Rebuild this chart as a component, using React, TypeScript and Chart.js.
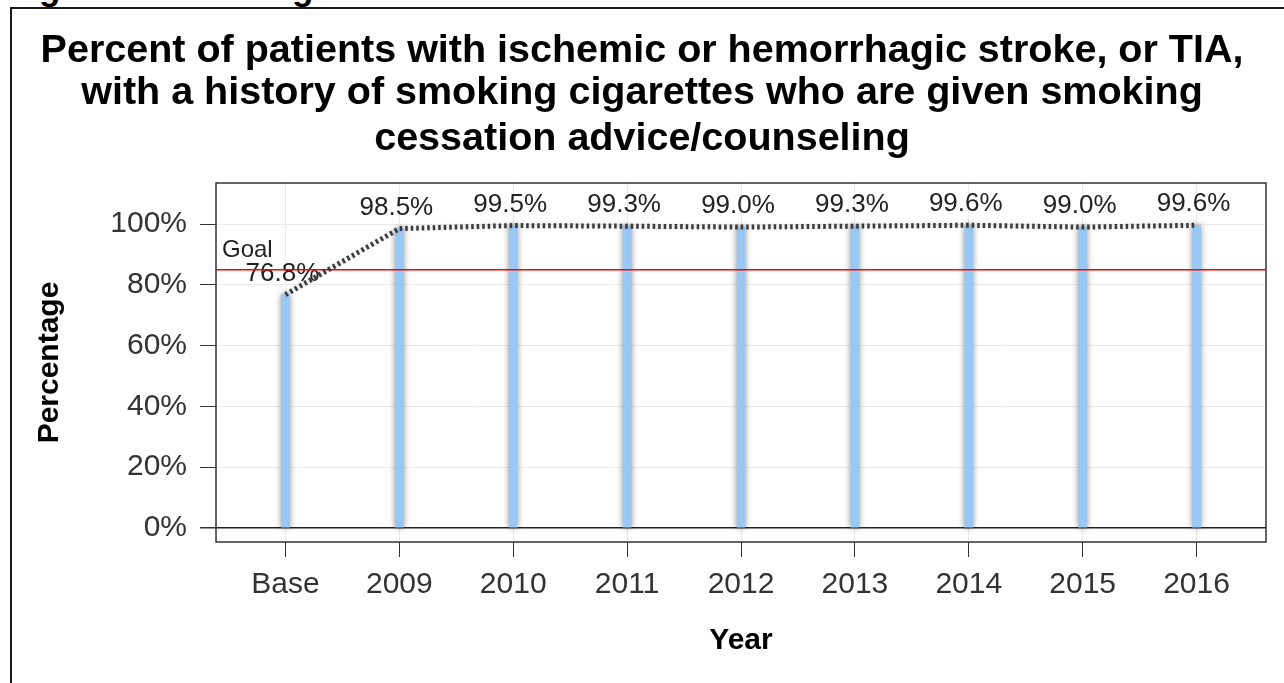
import React, { useEffect, useRef } from "react";
import { Chart, registerables } from "chart.js";

Chart.register(...registerables);

const FONT = '"Liberation Sans", Arial, Helvetica, sans-serif';

const figureHeading = "Figure 8: Smoking Cessation Results for 2016";
const titleLines = [
  "Percent of patients with ischemic or hemorrhagic stroke, or TIA,",
  "with a history of smoking cigarettes who are given smoking",
  "cessation advice/counseling",
];
const categories = ["Base", "2009", "2010", "2011", "2012", "2013", "2014", "2015", "2016"];
const percentValues = [76.8, 98.5, 99.5, 99.3, 99.0, 99.3, 99.6, 99.0, 99.6];
const valueLabels = ["76.8%", "98.5%", "99.5%", "99.3%", "99.0%", "99.3%", "99.6%", "99.0%", "99.6%"];
const yTicks = [0, 20, 40, 60, 80, 100];
const goalValue = 85;
const goalLabel = "Goal";
const xAxisTitle = "Year";
const yAxisTitle = "Percentage";

const X_MIN = -0.61;
const X_MAX = 8.61;
const Y_MIN = -4.6;
const Y_MAX = 113.5;

const LINE_INDEX = 0;
const BAR_INDEX = 1;

export default function App() {
  const ref = useRef<HTMLCanvasElement>(null);

  useEffect(() => {
    const canvas = ref.current;
    if (!canvas) return;
    const points = percentValues.map((v, i) => ({ x: i, y: v }));

    const decor = {
      id: "decor",
      beforeDatasetDraw(chart: any, args: any) {
        const ctx = chart.ctx;
        const xs = chart.scales.x;
        const ys = chart.scales.y;
        const area = chart.chartArea;
        if (args.index === LINE_INDEX) {
          ctx.save();
          ctx.font = `26px ${FONT}`;
          ctx.fillStyle = "#222";
          ctx.textAlign = "center";
          ctx.textBaseline = "middle";
          percentValues.forEach((v, i) => {
            ctx.fillText(valueLabels[i], xs.getPixelForValue(i) - 3, ys.getPixelForValue(v) - 21);
          });
          const gy = ys.getPixelForValue(goalValue);
          ctx.strokeStyle = "#ff0000";
          ctx.lineWidth = 1.5;
          ctx.beginPath();
          ctx.moveTo(area.left, gy);
          ctx.lineTo(area.right, gy);
          ctx.stroke();
          ctx.font = `24px ${FONT}`;
          ctx.textAlign = "left";
          ctx.textBaseline = "alphabetic";
          ctx.fillText(goalLabel, area.left + 6, gy - 13);
          ctx.restore();
        }
        ctx.save();
        if (args.index === BAR_INDEX) {
          ctx.shadowColor = "rgba(0,0,0,0.45)";
          ctx.shadowBlur = 6;
        } else {
          ctx.shadowColor = "rgba(0,0,0,0.2)";
          ctx.shadowBlur = 3;
        }
      },
      afterDatasetDraw(chart: any) {
        chart.ctx.restore();
      },
      afterDraw(chart: any) {
        const ctx = chart.ctx;
        const area = chart.chartArea;
        ctx.save();
        ctx.strokeStyle = "#333";
        ctx.lineWidth = 1.5;
        ctx.strokeRect(area.left, area.top, area.right - area.left, area.bottom - area.top);
        ctx.fillStyle = "#000";
        ctx.font = `bold 39.5px ${FONT}`;
        ctx.textAlign = "center";
        ctx.textBaseline = "alphabetic";
        const baselines = [62, 104, 150];
        titleLines.forEach((t, i) => ctx.fillText(t, 642, baselines[i]));
        ctx.restore();
      },
    };

    const chart = new Chart(canvas, {
      data: {
        datasets: [
          {
            type: "line",
            data: points,
            borderColor: "#3a3a3a",
            borderWidth: 5,
            borderDash: [2.5, 3],
            pointRadius: 0,
            tension: 0,
            fill: false,
            order: 0,
          } as any,
          {
            type: "bar",
            data: points,
            backgroundColor: "#99c8f4",
            borderWidth: 0,
            barThickness: 8,
            order: 1,
          } as any,
        ],
      },
      options: {
        responsive: false,
        animation: false,
        events: [],
        layout: { padding: { left: 12, right: 18, top: 183, bottom: 0 } },
        plugins: {
          legend: { display: false },
          tooltip: { enabled: false },
          title: { display: false },
        },
        scales: {
          x: {
            type: "linear",
            min: X_MIN,
            max: X_MAX,
            offset: false,
            afterBuildTicks: (s: any) => {
              s.ticks = categories.map((_, i) => ({ value: i }));
            },
            afterFit: (s: any) => {
              s.height = 141;
            },
            ticks: {
              callback: (v: any) => categories[v] ?? "",
              font: { family: FONT, size: 30 },
              color: "#333",
              padding: 10,
              maxRotation: 0,
              autoSkip: false,
            },
            grid: { offset: false, color: "#ebebeb", tickColor: "#333", tickLength: 15, lineWidth: 1 },
            border: { display: false },
            title: {
              display: true,
              text: xAxisTitle,
              font: { family: FONT, size: 30, weight: "bold" },
              color: "#000",
              padding: { top: 0, bottom: 24 },
            },
          } as any,
          y: {
            type: "linear",
            min: Y_MIN,
            max: Y_MAX,
            afterBuildTicks: (s: any) => {
              s.ticks = yTicks.map((v) => ({ value: v }));
            },
            afterFit: (s: any) => {
              s.width = 204;
            },
            ticks: {
              callback: (v: any) => `${v}%`,
              font: { family: FONT, size: 30 },
              color: "#333",
              padding: 13,
            },
            grid: {
              color: (c: any) => (c.tick && c.tick.value === 0 ? "#222" : "#ebebeb"),
              lineWidth: (c: any) => (c.tick && c.tick.value === 0 ? 1.5 : 1),
              tickColor: "#333",
              tickLength: 16,
            },
            border: { display: false },
            title: {
              display: true,
              text: yAxisTitle,
              font: { family: FONT, size: 30, weight: "bold" },
              color: "#000",
              padding: { top: 20, bottom: 0 },
            },
          } as any,
        },
      },
      plugins: [decor],
    } as any);

    return () => chart.destroy();
  }, []);

  return (
    <div
      style={{
        position: "fixed",
        left: 0,
        top: 0,
        width: 1284,
        height: 683,
        background: "#fff",
        overflow: "hidden",
      }}
    >
      <div
        style={{
          position: "absolute",
          left: 8,
          top: -30,
          font: `bold 35px ${FONT}`,
          lineHeight: "35px",
          whiteSpace: "nowrap",
          color: "#000",
        }}
      >
        {figureHeading}
      </div>
      <div
        style={{
          position: "absolute",
          left: 10,
          top: 7,
          width: 1400,
          height: 800,
          borderLeft: "2px solid #1a1a1a",
          borderTop: "2px solid #1a1a1a",
        }}
      />
      <canvas
        ref={ref}
        width={1284}
        height={683}
        style={{ position: "absolute", left: 0, top: 0, width: 1284, height: 683 }}
      />
    </div>
  );
}
